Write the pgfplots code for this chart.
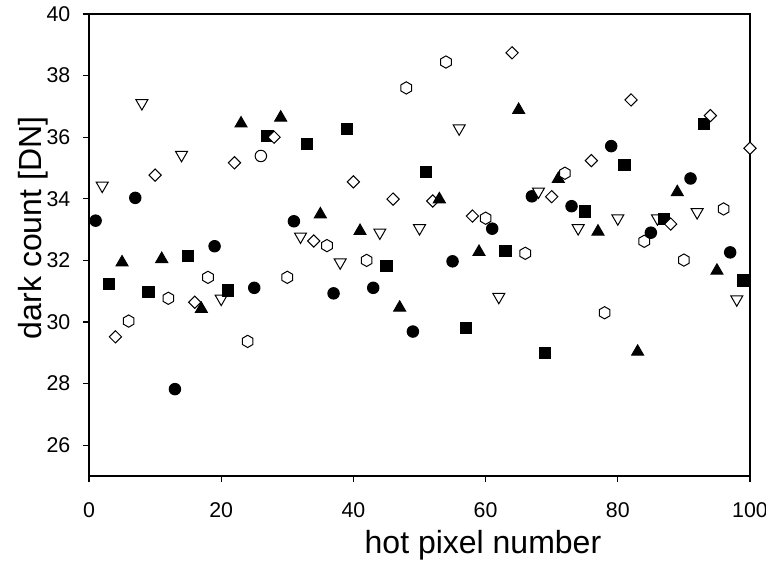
\documentclass[border=0pt]{standalone}
\usepackage{fontspec}
\setmainfont{Liberation Sans}
\usepackage{pgfplots}
\usepackage{pgfplotstable}
\pgfplotsset{compat=1.18}
\pgfdeclareplotmark{mcirc}{\pgfpathcircle{\pgfpointorigin}{4.3pt}\pgfusepathqfillstroke}
\pgfdeclareplotmark{msq}{\pgfpathrectangle{\pgfqpoint{-4.2pt}{-4.2pt}}{\pgfqpoint{8.4pt}{8.4pt}}\pgfusepathqfillstroke}
\pgfdeclareplotmark{mtriup}{\pgfpathmoveto{\pgfqpoint{0pt}{3.9pt}}\pgfpathlineto{\pgfqpoint{-4.5pt}{-3.9pt}}\pgfpathlineto{\pgfqpoint{4.5pt}{-3.9pt}}\pgfpathclose\pgfusepathqfillstroke}
\pgfdeclareplotmark{mtridown}{\pgfpathmoveto{\pgfqpoint{0pt}{-3.9pt}}\pgfpathlineto{\pgfqpoint{-4.5pt}{3.9pt}}\pgfpathlineto{\pgfqpoint{4.5pt}{3.9pt}}\pgfpathclose\pgfusepathqfillstroke}
\pgfdeclareplotmark{mdiam}{\pgfpathmoveto{\pgfqpoint{0pt}{4.6pt}}\pgfpathlineto{\pgfqpoint{4.6pt}{0pt}}\pgfpathlineto{\pgfqpoint{0pt}{-4.6pt}}\pgfpathlineto{\pgfqpoint{-4.6pt}{0pt}}\pgfpathclose\pgfusepathqfillstroke}
\pgfdeclareplotmark{mhex}{\pgfpathmoveto{\pgfqpoint{0pt}{4.6pt}}\pgfpathlineto{\pgfqpoint{-3.98pt}{2.3pt}}\pgfpathlineto{\pgfqpoint{-3.98pt}{-2.3pt}}\pgfpathlineto{\pgfqpoint{0pt}{-4.6pt}}\pgfpathlineto{\pgfqpoint{3.98pt}{-2.3pt}}\pgfpathlineto{\pgfqpoint{3.98pt}{2.3pt}}\pgfpathclose\pgfusepathqfillstroke}
\pgfplotstableread{
x y c
1 33.29 a
2 34.37 b
3 31.24 c
4 29.52 d
5 31.99 e
6 30.03 f
7 34.03 a
8 37.05 b
9 30.98 c
10 34.77 d
11 32.10 e
12 30.77 f
13 27.82 a
14 35.37 b
15 32.14 c
16 30.64 d
17 30.48 e
18 31.45 f
19 32.46 a
20 30.70 b
21 31.02 c
22 35.17 d
23 36.50 e
24 29.37 f
25 31.11 a
26 35.39 g
27 36.05 c
28 36.00 d
29 36.69 e
30 31.45 f
31 33.27 a
32 32.72 b
33 35.78 c
34 32.63 d
35 33.55 e
36 32.48 f
37 30.93 a
38 31.88 b
39 36.26 c
40 34.55 d
41 33.01 e
42 32.00 f
43 31.11 a
44 32.85 b
45 31.82 c
46 33.99 d
47 30.52 e
48 37.60 f
49 29.69 a
50 32.99 b
51 34.87 c
52 33.93 d
53 34.04 e
54 38.44 f
55 31.97 a
56 36.23 b
57 29.81 c
58 33.44 d
59 32.33 e
60 33.37 f
61 33.03 a
62 30.76 b
63 32.31 c
64 38.74 d
65 36.94 e
66 32.23 f
67 34.08 a
68 34.18 b
69 29.00 c
70 34.07 d
71 34.70 e
72 34.83 f
73 33.76 a
74 32.99 b
75 33.59 c
76 35.24 d
77 32.99 e
78 30.30 f
79 35.71 a
80 33.31 b
81 35.11 c
82 37.21 d
83 29.09 e
84 32.62 f
85 32.90 a
86 33.31 b
87 33.34 c
88 33.18 d
89 34.27 e
90 32.01 f
91 34.66 a
92 33.51 b
93 36.43 c
94 36.70 d
95 31.72 e
96 33.67 f
97 32.26 a
98 30.68 b
99 31.35 c
100 35.64 d
}\data
\begin{document}
\begin{tikzpicture}
\begin{axis}[
  name=ax,
  scale only axis,
  width=495.75pt, height=346.5pt,
  xmin=0, xmax=100, ymin=25, ymax=40,
  xtick={0,20,...,100}, ytick={26,28,...,40},
  tick align=outside, xtick pos=bottom, ytick pos=left,
  major tick length=4.5pt,
  axis line style={line width=0.9pt},
  every tick/.style={line width=0.9pt, black},
  clip=false,
  /pgf/number format/assume math mode=true,
  tick label style={font=\fontsize{16}{19}\selectfont},
  xticklabel style={yshift=-12pt},
  yticklabel style={xshift=-6pt},
  xlabel={hot pixel number},
  ylabel={dark count [DN]},
  every axis x label/.style={at={(axis description cs:0.596,-0.149)}, anchor=center, font=\fontsize{24}{28}\selectfont},
  every axis y label/.style={at={(axis description cs:-0.0847,0.537)}, anchor=center, rotate=90, font=\fontsize{24}{28}\selectfont},
]
\addplot[scatter, only marks, line width=0.75pt,
  scatter src=explicit symbolic,
  scatter/classes={
    a={mark=mcirc, draw=black, fill=black},
    b={mark=mtridown, draw=black, fill=white},
    c={mark=msq, draw=black, fill=black},
    d={mark=mdiam, draw=black, fill=white},
    e={mark=mtriup, draw=black, fill=black},
    f={mark=mhex, draw=black, fill=white},
    g={mark=mcirc, draw=black, fill=white}}
] table[x=x, y=y, meta=c] {\data};
\end{axis}
\pgfresetboundingbox
\path[use as bounding box] ([shift={(-66.75pt,-63pt)}]ax.south west) rectangle ([shift={(12pt,10.5pt)}]ax.north east);
\end{tikzpicture}
\end{document}
